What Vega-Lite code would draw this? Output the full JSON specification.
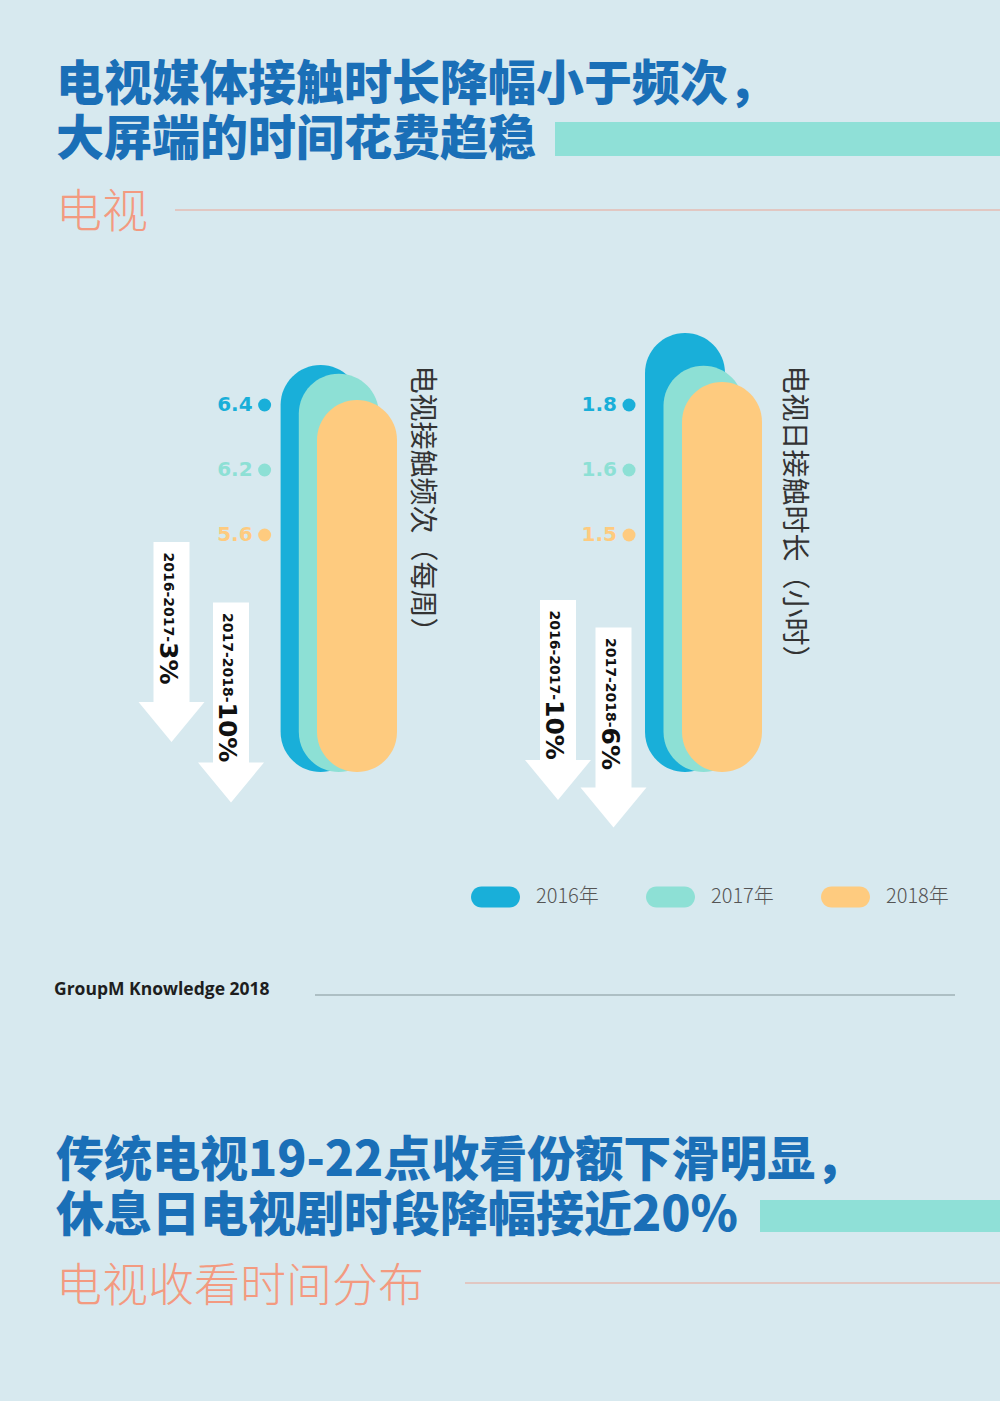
{
  "$schema": "https://vega.github.io/schema/vega-lite/v6.json",
  "background": "#d7e9ef",
  "padding": 0,
  "config": {"view": {"stroke": null}, "concat": {"spacing": 0}, "font": "Noto Sans CJK SC"},
  "datasets": {
    "tv": [
      {"measure": "频次", "year": "2016年", "value": 6.4},
      {"measure": "频次", "year": "2017年", "value": 6.2},
      {"measure": "频次", "year": "2018年", "value": 5.6},
      {"measure": "时长", "year": "2016年", "value": 1.8},
      {"measure": "时长", "year": "2017年", "value": 1.6},
      {"measure": "时长", "year": "2018年", "value": 1.5}
    ],
    "changes": [
      {"measure": "频次", "period": "2016-2017", "change": -3},
      {"measure": "频次", "period": "2017-2018", "change": -10},
      {"measure": "时长", "period": "2016-2017", "change": -10},
      {"measure": "时长", "period": "2017-2018", "change": -6}
    ],
    "decor": [{"part": "decor"}]
  },
  "bounds": "flush",
  "spacing": 0,
  "resolve": {"scale": {"color": "independent"}, "legend": {"color": "independent"}},
  "vconcat": [
    {
      "width": 1000, "height": 320,
      "data": {"name": "decor"},
      "title": {
        "text": ["电视媒体接触时长降幅小于频次，", "大屏端的时间花费趋稳"],
        "subtitle": "电视",
        "orient": "bottom", "anchor": "start", "frame": "group", "offset": -258, "dx": 56,
        "baseline": "top", "lineHeight": 55,
        "font": "Noto Sans CJK SC", "fontSize": 48, "fontWeight": 900, "color": "#1a6fb7",
        "subtitleFont": "Noto Sans CJK SC", "subtitleFontSize": 46, "subtitleFontWeight": 300,
        "subtitleColor": "#f39a80", "subtitlePadding": 26
      },
      "encoding": {
        "x": {"datum": 555, "type": "quantitative", "scale": {"domain": [0, 1000], "nice": false, "zero": false}, "axis": null},
        "y": {"datum": 122, "type": "quantitative", "scale": {"domain": [0, 320], "nice": false, "zero": false, "reverse": true}, "axis": null}
      },
      "layer": [
        {"mark": {"type": "rect", "color": "#8fe0d7"},
         "encoding": {"x2": {"datum": 1000}, "y2": {"datum": 156}}},
        {"mark": {"type": "rule", "color": "#eba595", "strokeWidth": 1},
         "encoding": {"x": {"datum": 175, "type": "quantitative"}, "x2": {"datum": 1000}, "y": {"datum": 210, "type": "quantitative"}}}
      ]
    },
    {
      "width": 1000, "height": 452,
      "resolve": {"scale": {"x": "independent", "y": "independent"}, "axis": {"x": "independent", "y": "independent"}},
      "layer": [
        {
          "data": {"name": "tv"},
          "transform": [{"filter": {"field": "measure", "equal": "频次"}}],
          "mark": {"type": "bar", "width": 80, "cornerRadius": 40},
          "encoding": {
            "x": {"field": "year", "type": "nominal", "scale": {"type": "band", "domain": ["2016年", "2017年", "2018年"], "range": [311.5, 366.1], "paddingInner": 0, "paddingOuter": 0}, "axis": null},
            "y": {"field": "value", "type": "quantitative", "scale": {"domain": [-2.9, 7.43], "nice": false, "zero": false},
              "axis": {"orient": "right", "title": "电视接触频次（每周）", "labels": false, "ticks": false, "domain": false, "grid": false,
                "titleAngle": 90, "titleAlign": "left", "titleBaseline": "middle", "titleX": -580, "titleY": 45,
                "titleFont": "Noto Sans CJK SC", "titleFontSize": 28, "titleFontWeight": "normal", "titleColor": "#333333"}},
            "y2": {"datum": -2.9},
            "color": {"field": "year", "type": "nominal", "scale": {"domain": ["2016年", "2017年", "2018年"], "range": ["#19afd9", "#8de0d5", "#fecb7f"]},
              "legend": {"orient": "none", "legendX": 471, "legendY": 552, "direction": "horizontal", "title": null, "padding": 0,
                "symbolType": "M -0.571 -0.4286 L 0.571 -0.4286 A 0.4286 0.4286 0 0 1 0.571 0.4286 L -0.571 0.4286 A 0.4286 0.4286 0 0 1 -0.571 -0.4286 Z",
                "symbolSize": 2401, "symbolStrokeWidth": 0, "symbolOpacity": 1,
                "labelFont": "Noto Sans CJK SC", "labelFontSize": 20, "labelFontWeight": 300, "labelColor": "#555555", "labelOffset": 16, "columnPadding": 47}}
          }
        },
        {
          "data": {"name": "tv"},
          "transform": [{"filter": {"field": "measure", "equal": "频次"}}],
          "encoding": {
            "x": {"datum": "2016年", "type": "nominal", "scale": {"type": "band", "domain": ["2016年", "2017年", "2018年"], "range": [311.5, 366.1], "paddingInner": 0, "paddingOuter": 0}, "axis": null},
            "y": {"field": "year", "type": "nominal", "scale": {"type": "point", "domain": ["2016年", "2017年", "2018年"], "range": [85, 215], "padding": 0}, "axis": null},
            "color": {"field": "year", "type": "nominal", "scale": {"domain": ["2016年", "2017年", "2018年"], "range": ["#19afd9", "#8de0d5", "#fecb7f"]}}
          },
          "layer": [
            {"mark": {"type": "text", "align": "right", "baseline": "middle", "xOffset": -68, "font": "DejaVu Sans", "fontWeight": "bold", "fontSize": 20},
             "encoding": {"text": {"field": "value", "type": "quantitative", "format": ".1f"}}},
            {"mark": {"type": "point", "filled": true, "opacity": 1, "size": 169, "xOffset": -56}}
          ]
        },
        {
          "data": {"name": "changes"},
          "transform": [{"filter": {"field": "measure", "equal": "频次"}}],
          "encoding": {
            "x": {"field": "period", "type": "nominal", "scale": {"type": "point", "domain": ["2016-2017", "2017-2018"], "range": [171.5, 231], "padding": 0}, "axis": null},
            "y": {"field": "period", "type": "nominal", "scale": {"type": "point", "domain": ["2016-2017", "2017-2018"], "range": [322, 382.5], "padding": 0}, "axis": null}
          },
          "layer": [
            {"mark": {"type": "point", "shape": "M -0.18 -1 L 0.18 -1 L 0.18 0.6 L 0.33 0.6 L 0 1 L -0.33 0.6 L -0.18 0.6 Z", "size": 40000, "filled": true, "color": "#ffffff", "opacity": 1, "strokeWidth": 0}},
            {"mark": {"type": "text", "text": {"expr": "datum.period + '-'"}, "angle": 90, "align": "right", "baseline": "middle", "xOffset": -4, "font": "DejaVu Sans", "fontWeight": "bold", "fontSize": 14, "color": "#111111"}},
            {"mark": {"type": "text", "text": {"expr": "abs(datum.change) + '%'"}, "angle": 90, "align": "left", "baseline": "middle", "xOffset": -4, "font": "DejaVu Sans", "fontWeight": "bold", "fontSize": 25, "color": "#111111"}}
          ]
        },
        {
          "data": {"name": "tv"},
          "transform": [{"filter": {"field": "measure", "equal": "时长"}}],
          "mark": {"type": "bar", "width": 80, "cornerRadius": 40},
          "encoding": {
            "x": {"field": "year", "type": "nominal", "scale": {"type": "band", "domain": ["2016年", "2017年", "2018年"], "range": [675.75, 731.25], "paddingInner": 0, "paddingOuter": 0}, "axis": null},
            "y": {"field": "value", "type": "quantitative", "scale": {"domain": [-0.888, 1.88], "nice": false, "zero": false},
              "axis": {"orient": "right", "title": "电视日接触时长（小时）", "labels": false, "ticks": false, "domain": false, "grid": false,
                "titleAngle": 90, "titleAlign": "left", "titleBaseline": "middle", "titleX": -208, "titleY": 45,
                "titleFont": "Noto Sans CJK SC", "titleFontSize": 28, "titleFontWeight": "normal", "titleColor": "#333333"}},
            "y2": {"datum": -0.888},
            "color": {"field": "year", "type": "nominal", "scale": {"domain": ["2016年", "2017年", "2018年"], "range": ["#19afd9", "#8de0d5", "#fecb7f"]}}
          }
        },
        {
          "data": {"name": "tv"},
          "transform": [{"filter": {"field": "measure", "equal": "时长"}}],
          "encoding": {
            "x": {"datum": "2016年", "type": "nominal", "scale": {"type": "band", "domain": ["2016年", "2017年", "2018年"], "range": [675.75, 731.25], "paddingInner": 0, "paddingOuter": 0}, "axis": null},
            "y": {"field": "year", "type": "nominal", "scale": {"type": "point", "domain": ["2016年", "2017年", "2018年"], "range": [85, 215], "padding": 0}, "axis": null},
            "color": {"field": "year", "type": "nominal", "scale": {"domain": ["2016年", "2017年", "2018年"], "range": ["#19afd9", "#8de0d5", "#fecb7f"]}}
          },
          "layer": [
            {"mark": {"type": "text", "align": "right", "baseline": "middle", "xOffset": -68, "font": "DejaVu Sans", "fontWeight": "bold", "fontSize": 20},
             "encoding": {"text": {"field": "value", "type": "quantitative", "format": ".1f"}}},
            {"mark": {"type": "point", "filled": true, "opacity": 1, "size": 169, "xOffset": -56}}
          ]
        },
        {
          "data": {"name": "changes"},
          "transform": [{"filter": {"field": "measure", "equal": "时长"}}],
          "encoding": {
            "x": {"field": "period", "type": "nominal", "scale": {"type": "point", "domain": ["2016-2017", "2017-2018"], "range": [558, 613.5], "padding": 0}, "axis": null},
            "y": {"field": "period", "type": "nominal", "scale": {"type": "point", "domain": ["2016-2017", "2017-2018"], "range": [380, 407.5], "padding": 0}, "axis": null}
          },
          "layer": [
            {"mark": {"type": "point", "shape": "M -0.18 -1 L 0.18 -1 L 0.18 0.6 L 0.33 0.6 L 0 1 L -0.33 0.6 L -0.18 0.6 Z", "size": 40000, "filled": true, "color": "#ffffff", "opacity": 1, "strokeWidth": 0}},
            {"mark": {"type": "text", "text": {"expr": "datum.period + '-'"}, "angle": 90, "align": "right", "baseline": "middle", "xOffset": -4, "font": "DejaVu Sans", "fontWeight": "bold", "fontSize": 14, "color": "#111111"}},
            {"mark": {"type": "text", "text": {"expr": "abs(datum.change) + '%'"}, "angle": 90, "align": "left", "baseline": "middle", "xOffset": -4, "font": "DejaVu Sans", "fontWeight": "bold", "fontSize": 25, "color": "#111111"}}
          ]
        }
      ]
    },
    {
      "width": 1000, "height": 363,
      "data": {"name": "decor"},
      "title": {"text": "GroupM Knowledge 2018", "orient": "bottom", "anchor": "start", "frame": "group", "dx": 54, "offset": -140,
        "baseline": "alphabetic", "font": "Open Sans", "fontSize": 17.5, "fontWeight": "bold", "color": "#1e1e1e"},
      "mark": {"type": "rule", "color": "#9fb0b6", "strokeWidth": 1.5},
      "encoding": {
        "x": {"datum": 315, "type": "quantitative", "scale": {"domain": [0, 1000], "nice": false, "zero": false}, "axis": null},
        "x2": {"datum": 955},
        "y": {"datum": 223, "type": "quantitative", "scale": {"domain": [0, 363], "nice": false, "zero": false, "reverse": true}, "axis": null}
      }
    },
    {
      "width": 1000, "height": 266,
      "data": {"name": "decor"},
      "title": {
        "text": ["传统电视19-22点收看份额下滑明显，", "休息日电视剧时段降幅接近20%"],
        "subtitle": "电视收看时间分布",
        "orient": "bottom", "anchor": "start", "frame": "group", "offset": -263, "dx": 56,
        "baseline": "top", "lineHeight": 55,
        "font": "Noto Sans CJK SC", "fontSize": 48, "fontWeight": 900, "color": "#1a6fb7",
        "subtitleFont": "Noto Sans CJK SC", "subtitleFontSize": 46, "subtitleFontWeight": 300,
        "subtitleColor": "#f39a80", "subtitlePadding": 24
      },
      "encoding": {
        "x": {"datum": 760, "type": "quantitative", "scale": {"domain": [0, 1000], "nice": false, "zero": false}, "axis": null},
        "y": {"datum": 65, "type": "quantitative", "scale": {"domain": [0, 266], "nice": false, "zero": false, "reverse": true}, "axis": null}
      },
      "layer": [
        {"mark": {"type": "rect", "color": "#8fe0d7"},
         "encoding": {"x2": {"datum": 1000}, "y2": {"datum": 97}}},
        {"mark": {"type": "rule", "color": "#eba595", "strokeWidth": 1},
         "encoding": {"x": {"datum": 465, "type": "quantitative"}, "x2": {"datum": 1000}, "y": {"datum": 148, "type": "quantitative"}}}
      ]
    }
  ]
}
